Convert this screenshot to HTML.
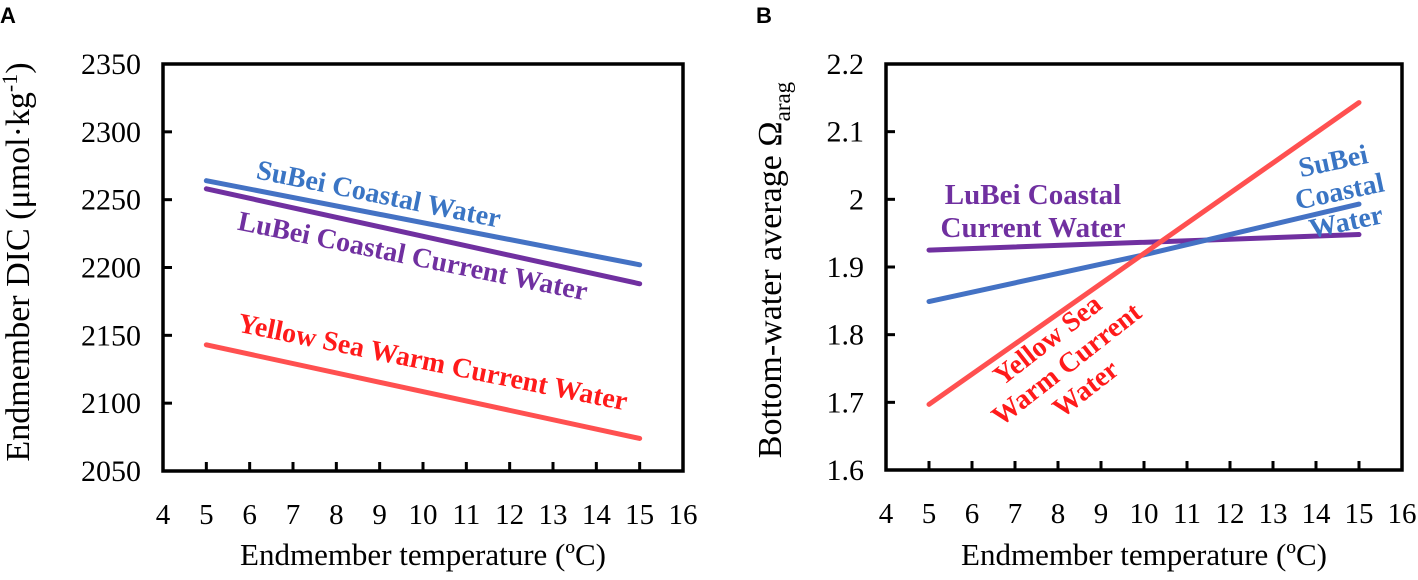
<!DOCTYPE html>
<html><head><meta charset="utf-8"><style>
html,body{margin:0;padding:0;background:#fff;}
svg{display:block;font-family:"Liberation Serif",serif;}
</style></head><body>
<svg id="chart" width="1418" height="580" viewBox="0 0 1418 580" xmlns="http://www.w3.org/2000/svg">
<g id="gA"></g>
<g id="gB"></g>
</svg>
<script>
const xTicks = [4,5,6,7,8,9,10,11,12,13,14,15,16];
const temps = [5, 15];
const yTicksA = [2050,2100,2150,2200,2250,2300,2350];
const subeiA = [2264, 2202];
const lubeiA = [2258, 2188];
const yellowA = [2143, 2074];
const yTicksB = [1.6,1.7,1.8,1.9,2,2.1,2.2];
const subeiTempsB = [5, 10, 15];
const subeiB = [1.849, 1.918, 1.993];
const lubeiB = [1.925, 1.948];
const yellowB = [1.697, 2.143];

const NS = "http://www.w3.org/2000/svg";
function mk(tag, attrs, parent){const e=document.createElementNS(NS,tag);for(const k in attrs)e.setAttribute(k,attrs[k]);parent.appendChild(e);return e;}
const BLUE="#4472c4", PURPLE="#7030a0", RED="#ff5050";

function panel(g, L, R, T, B, yMin, yMax, yTicks, fmt){
  const sx=v=>L+(v-4)/(16-4)*(R-L);
  const sy=v=>B-(v-yMin)/(yMax-yMin)*(B-T);
  const box=mk('rect',{x:L,y:T,width:R-L,height:B-T,fill:'none',stroke:'#000','stroke-width':3.5},g);
  
  
  xTicks.forEach(t=>{
    if(t>4&&t<16){const l=mk('line',{x1:sx(t),x2:sx(t),y1:B,y2:B-9,stroke:'#000','stroke-width':3},g);
      
      }
    const tx=mk('text',{x:sx(t),y:B+53,'text-anchor':'middle','font-size':29},g);
    tx.textContent=t;
    
    
  });
  yTicks.forEach(t=>{
    const l=mk('line',{x1:L,x2:L+9,y1:sy(t),y2:sy(t),stroke:'#000','stroke-width':3},g);
    
    
    const tx=mk('text',{x:L-22,y:sy(t)+10,'text-anchor':'end','font-size':30},g);
    tx.textContent=fmt(t);
    
    
  });
  const xt=mk('text',{x:(L+R)/2,y:565,'text-anchor':'middle','font-size':31},g);
  xt.textContent='Endmember temperature (ºC)';
  
  
  return {sx,sy};
}
function series(g, s, xs, ys, color, name){
  const p=mk('polyline',{points:xs.map((x,i)=>s.sx(x)+','+s.sy(ys[i])).join(' '),fill:'none',stroke:color,'stroke-width':5,'stroke-linecap':'round'},g);
  
  
}
function label(g, lines, x, y, rot, color, size, lh, name){
  const t=mk('text',{x:x,y:y,'text-anchor':'middle','font-size':size,'font-weight':'bold',fill:color,transform:`rotate(${rot} ${x} ${y})`},g);
  
  
  lines.forEach((ln,i)=>{const ts=mk('tspan',{x:x,dy:i?lh:0},t);ts.textContent=ln;});
}

// Panel A
const gA=document.getElementById('gA');
const a=panel(gA,163,683,64,471,2050,2350,yTicksA,v=>v);
series(gA,a,temps,subeiA,BLUE,'line-subei-dic');
series(gA,a,temps,lubeiA,PURPLE,'line-lubei-dic');
series(gA,a,temps,yellowA,RED,'line-yellow-sea-dic');
label(gA,['SuBei Coastal Water'],377,203,11.5,'#3a75c4',28,0,'label-subei-a');
label(gA,['LuBei Coastal Current Water'],411,265,11.5,PURPLE,28,0,'label-lubei-a');
label(gA,['Yellow Sea Warm Current Water'],431,371,11.5,'#ff1a1a',28,0,'label-yellow-sea-a');
const ytA=mk('text',{x:0,y:0,'text-anchor':'middle','font-size':34,transform:'translate(29 262) rotate(-90)'},gA);


ytA.innerHTML='Endmember DIC (μmol·kg<tspan dy="-12" font-size="22">-1</tspan><tspan dy="12">)</tspan>';
const la=mk('text',{x:0,y:23,'font-family':'Liberation Sans, sans-serif','font-weight':'bold','font-size':22},gA);
la.textContent='A';



// Panel B
const gB=document.getElementById('gB');
const b=panel(gB,886,1402,64,470,1.6,2.2,yTicksB,v=>String(v));
series(gB,b,temps,lubeiB,PURPLE,'line-lubei-omega');
series(gB,b,subeiTempsB,subeiB,BLUE,'line-subei-omega');
series(gB,b,temps,yellowB,RED,'line-yellow-sea-omega');
label(gB,['LuBei Coastal','Current Water'],1033,204,0,PURPLE,29,33,'label-lubei-b');
label(gB,['SuBei','Coastal','Water'],1335,170,-12,'#3a75c4',28,31,'label-subei-b');
label(gB,['Yellow Sea','Warm Current','Water'],1053,347,-38,'#ff1a1a',28,31,'label-yellow-sea-b');
const ytB=mk('text',{x:0,y:0,'text-anchor':'middle','font-size':34,transform:'translate(781 270) rotate(-90)'},gB);


ytB.innerHTML='Bottom-water average Ω<tspan dy="9" font-size="23">arag</tspan>';
const lb=mk('text',{x:756,y:23,'font-family':'Liberation Sans, sans-serif','font-weight':'bold','font-size':22},gB);
lb.textContent='B';


</script>
</body></html>
